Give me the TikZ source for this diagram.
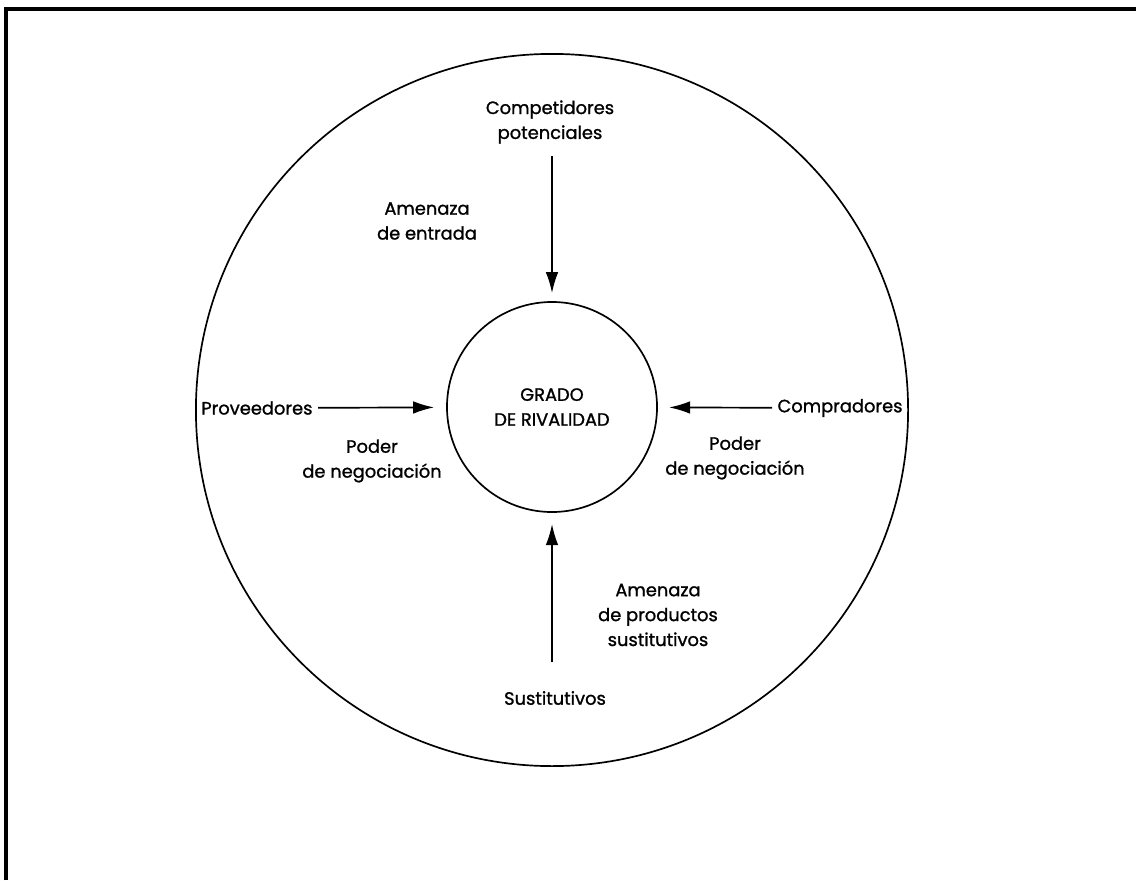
\documentclass[tikz,border=0pt]{standalone}
\usepackage{fontspec}
\setmainfont{Poppins}
\newfontfamily\etiq{Poppins}[FakeBold=1.2]
\usetikzlibrary{positioning}
\usetikzlibrary{arrows.meta}

\begin{document}
\begin{tikzpicture}[x=0.025cm,y=-0.025cm,
  txt/.style={align=center,font=\etiq\fontsize{12.7}{17.7}\selectfont},
  >={Latex[length=15pt,width=9pt]}, line width=1.2pt]
\useasboundingbox (0,0) rectangle (1136,880);
\draw[line width=2.2pt] (6,880) -- (6,9) -- (1136,9);

\node[draw,circle,minimum size=17.8cm](borde) at (552,410){};
\node[draw,circle,minimum size=5.25cm,txt](rival) at (552,407){GRADO\\DE RIVALIDAD};

\node[txt](compet) at (550,122){Competidores\\potenciales};
\node[txt](amenE) at (427,221){Amenaza\\de entrada};
\node[txt,anchor=east](prov) at (318,408){Proveedores};
\node[txt](poderP) at (372,461){Poder\\de negociación};
\node[txt,anchor=west](compr) at (772,408){Compradores};
\node[txt](poderC) at (735,458){Poder\\de negociación};
\node[txt](amenS) at (658,615){Amenaza\\de productos\\sustitutivos};
\node[txt](sust) at (555,698){Sustitutivos};

\coordinate (startC) at (552,156);
\coordinate (startS) at (552,662);

\path
(startC) edge[->, shorten >=0.2cm] (rival)
(prov) edge[->, shorten >=0.3cm] (rival)
(compr) edge[->, shorten >=0.28cm] (rival)
(startS) edge[->, shorten >=0.28cm] (rival);
\end{tikzpicture}
\end{document}
